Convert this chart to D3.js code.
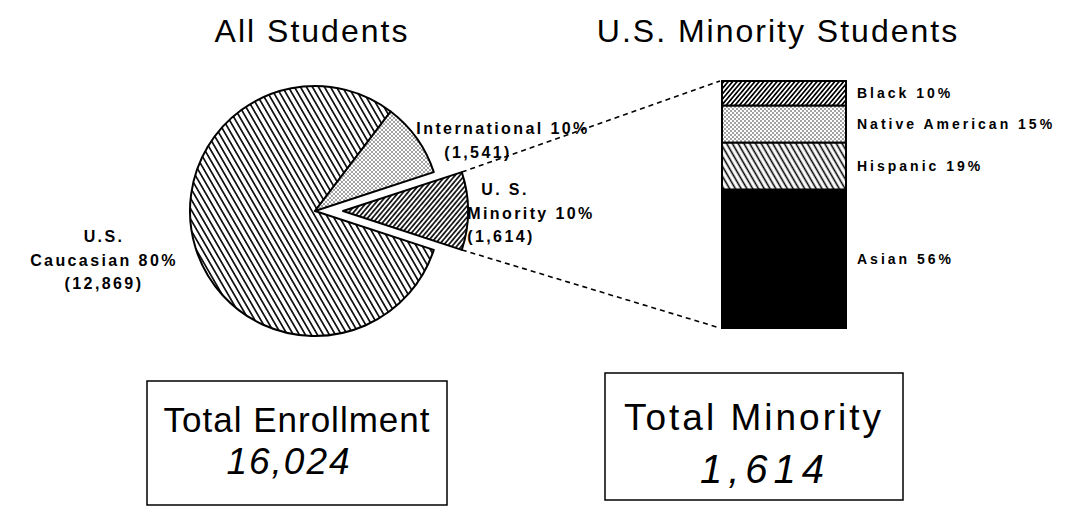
<!DOCTYPE html>
<html lang="en">
<head>
    <meta charset="UTF-8">
    <title>Student Enrollment</title>
    <script src="https://d3js.org/d3.v7.min.js"></script>
    <style>
        body { margin: 0; background: #fff; }
        text { font-family: "Liberation Sans", Arial, Helvetica, sans-serif; fill: #000; }
    </style>
</head>
<body>
    <svg></svg>
    <script>
        // data
        const pieCategories = ["U.S. Caucasian", "International", "U.S. Minority"];
        const pieCounts = [12869, 1541, 1614];
        const piePercents = [80, 10, 10];
        const minorityGroups = ["Black", "Native American", "Hispanic", "Asian"];
        const minorityPercents = [10, 15, 19, 56];
        const totalEnrollment = 16024;
        const totalMinority = 1614;

        const width = 1066;
        const height = 507;

        const svg = d3.select("svg")
            .attr("width", width)
            .attr("height", height);

        const defs = svg.append("defs");

        // line hatch fill
        function hatch(id, spacing, angle, sw) {
            const p = defs.append("pattern")
                .attr("id", id)
                .attr("patternUnits", "userSpaceOnUse")
                .attr("width", spacing)
                .attr("height", spacing)
                .attr("patternTransform", `rotate(${angle})`);
            p.append("rect").attr("width", spacing).attr("height", spacing).attr("fill", "#fff");
            p.append("line")
                .attr("x1", spacing / 2).attr("y1", 0)
                .attr("x2", spacing / 2).attr("y2", spacing)
                .attr("stroke", "#000")
                .attr("stroke-width", sw);
        }

        // stipple fill
        function dots(id, spacing, r) {
            const p = defs.append("pattern")
                .attr("id", id)
                .attr("patternUnits", "userSpaceOnUse")
                .attr("width", spacing)
                .attr("height", spacing);
            p.append("rect").attr("width", spacing).attr("height", spacing).attr("fill", "#fff");
            p.append("circle").attr("cx", spacing / 4).attr("cy", spacing / 4).attr("r", r).attr("fill", "#000");
            p.append("circle").attr("cx", spacing * 3 / 4).attr("cy", spacing * 3 / 4).attr("r", r).attr("fill", "#000");
        }

        hatch("back", 5.2, -30, 1.6);
        hatch("fwdDense", 3.6, 40, 1.6);
        hatch("backBar", 5, -30, 1.6);
        hatch("fwdBar", 3.4, 40, 1.7);
        dots("stipple", 4, 0.7);

        const pieFills = ["url(#back)", "url(#stipple)", "url(#fwdDense)"];
        const barFills = ["url(#fwdBar)", "url(#stipple)", "url(#backBar)", "#000"];

        // titles
        svg.append("text")
            .attr("x", 312).attr("y", 42)
            .attr("text-anchor", "middle")
            .style("font-size", "32px")
            .style("letter-spacing", "2px")
            .text("All Students");

        svg.append("text")
            .attr("x", 778).attr("y", 42)
            .attr("text-anchor", "middle")
            .style("font-size", "32px")
            .style("letter-spacing", "2px")
            .text("U.S. Minority Students");

        // pie
        const cx = 315, cy = 211, r = 125, explode = 28;
        const total = d3.sum(pieCounts);
        const order = [2, 0, 1]; // minority first so it sits on the right
        const start = Math.PI / 2 - pieCounts[2] / total * Math.PI;

        const pie = d3.pie()
            .sort(null)
            .value(i => pieCounts[i])
            .startAngle(start)
            .endAngle(start + 2 * Math.PI);

        const arc = d3.arc().innerRadius(0).outerRadius(r);
        const slices = pie(order);

        const offset = d => {
            if (d.data !== 2) return [0, 0];
            const mid = (d.startAngle + d.endAngle) / 2;
            return [Math.sin(mid) * explode, -Math.cos(mid) * explode];
        };

        svg.append("g")
            .attr("transform", `translate(${cx},${cy})`)
            .selectAll("path")
            .data(slices)
            .join("path")
            .attr("transform", d => `translate(${offset(d)})`)
            .attr("d", arc)
            .attr("fill", d => pieFills[d.data])
            .attr("stroke", "#000")
            .attr("stroke-width", 2)
            .attr("stroke-linejoin", "round");

        // stacked bar of minority groups
        const barX = 722, barW = 124;
        const y = d3.scaleLinear().domain([0, 100]).range([81, 328]);
        const cum = d3.cumsum(minorityPercents);
        const segs = minorityPercents.map((v, i) => ({ name: minorityGroups[i], v, y0: cum[i] - v, y1: cum[i], i }));

        svg.append("g")
            .selectAll("rect")
            .data(segs)
            .join("rect")
            .attr("x", barX)
            .attr("y", d => y(d.y0))
            .attr("width", barW)
            .attr("height", d => y(d.y1) - y(d.y0))
            .attr("fill", d => barFills[d.i])
            .attr("stroke", "#000")
            .attr("stroke-width", 2);

        svg.append("g")
            .selectAll("text")
            .data(segs)
            .join("text")
            .attr("x", barX + barW + 11)
            .attr("y", d => (y(d.y0) + y(d.y1)) / 2 + 5)
            .style("font-size", "14px")
            .style("font-weight", "bold")
            .style("letter-spacing", "3px")
            .text(d => `${d.name} ${d.v}%`);

        // dashed connectors from the pulled-out slice to the bar
        const minSlice = slices.find(d => d.data === 2);
        const [ox, oy] = offset(minSlice);
        const corner = a => [cx + ox + r * Math.sin(a), cy + oy - r * Math.cos(a)];
        const links = [
            [corner(minSlice.startAngle), [barX - 2, y(0)]],
            [corner(minSlice.endAngle), [barX - 2, y(100)]]
        ];
        svg.append("g")
            .selectAll("line")
            .data(links)
            .join("line")
            .attr("x1", d => d[0][0]).attr("y1", d => d[0][1])
            .attr("x2", d => d[1][0]).attr("y2", d => d[1][1])
            .attr("stroke", "#000")
            .attr("stroke-width", 1.6)
            .attr("stroke-dasharray", "5,4");

        // pie labels
        const fmt = d3.format(",");
        const pieLabels = [
            { lines: ["U.S.", `Caucasian ${piePercents[0]}%`, `(${fmt(pieCounts[0])})`], x: 104, y: 242, dx: [0, 0, 0] },
            { lines: [`International ${piePercents[1]}%`, `(${fmt(pieCounts[1])})`], x: 503, y: 134, dx: [0, -25] },
            { lines: ["U. S.", `Minority ${piePercents[2]}%`, `(${fmt(pieCounts[2])})`], x: 531, y: 195, dx: [-26, 0, -30] }
        ];
        pieLabels.forEach(l => {
            const t = svg.append("text")
                .attr("text-anchor", "middle")
                .style("font-size", "16px")
                .style("font-weight", "bold")
                .style("letter-spacing", "2.4px");
            l.lines.forEach((s, i) => {
                t.append("tspan")
                    .attr("x", l.x + l.dx[i])
                    .attr("y", l.y + i * 23.5)
                    .text(s);
            });
        });

        // total boxes
        const boxes = [
            { x: 147, y: 381, w: 300, h: 124, title: "Total Enrollment", value: totalEnrollment,
              ty: 432, vy: 474, tfs: 35, tls: 1, vfs: 37, vls: 2, vdx: -8 },
            { x: 605, y: 373, w: 298, h: 127, title: "Total Minority", value: totalMinority,
              ty: 430, vy: 483, tfs: 37, tls: 3, vfs: 40, vls: 6, vdx: 11 }
        ];
        const bg = svg.append("g").selectAll("g").data(boxes).join("g");
        bg.append("rect")
            .attr("x", d => d.x).attr("y", d => d.y)
            .attr("width", d => d.w).attr("height", d => d.h)
            .attr("fill", "none")
            .attr("stroke", "#000")
            .attr("stroke-width", 1.5);
        bg.append("text")
            .attr("x", d => d.x + d.w / 2)
            .attr("y", d => d.ty)
            .attr("text-anchor", "middle")
            .style("font-size", d => d.tfs + "px")
            .style("letter-spacing", d => d.tls + "px")
            .text(d => d.title);
        bg.append("text")
            .attr("x", d => d.x + d.w / 2 + d.vdx)
            .attr("y", d => d.vy)
            .attr("text-anchor", "middle")
            .style("font-size", d => d.vfs + "px")
            .style("font-style", "italic")
            .style("letter-spacing", d => d.vls + "px")
            .text(d => fmt(d.value));
    </script>
</body>
</html>
